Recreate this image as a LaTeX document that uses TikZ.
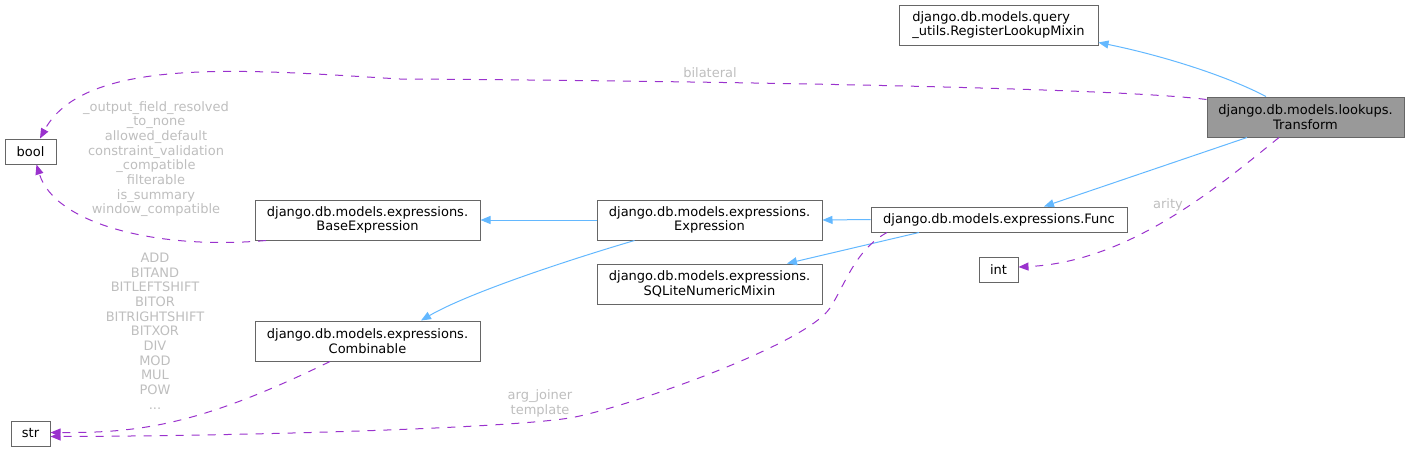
\documentclass[tikz,border=0pt]{standalone}
\usepackage{fontspec}
\setmainfont{DejaVu Sans}
\usetikzlibrary{arrows.meta, calc}
\definecolor{dxblue}{HTML}{63B8FF}
\definecolor{dxpurple}{HTML}{9A32CD}
\definecolor{dxborder}{HTML}{666666}
\definecolor{dxfocus}{HTML}{999999}
\definecolor{dxlabel}{HTML}{BEBEBE}

\begin{document}
\begin{tikzpicture}[x=1pt, y=-1pt, font=\fontsize{13}{14.67}\selectfont,
          box/.style={draw=dxborder, fill=white, line width=1pt, inner sep=0pt, minimum height=40pt, align=center},
          focus/.style={box, fill=dxfocus},
          inh/.style={-{Triangle[length=10pt, width=8pt]}, dxblue, line width=1pt},
          use/.style={-{Triangle[length=10pt, width=8pt]}, dxpurple, line width=1pt, dash pattern=on 8pt off 8pt},
          lbl/.style={text=dxlabel, inner sep=0pt, align=center}]
        \useasboundingbox (0,0) rectangle (1409,451);
        \node[box, minimum width=199pt, align=left] (mixin) at (998.5,25) {django.db.models.query\\\_utils.RegisterLookupMixin};
        \node[focus, minimum width=197pt] (transform) at (1305.5,117) {django.db.models.lookups.\\Transform};
        \node[box, minimum width=256pt, minimum height=25pt] (func) at (999,219.5) {django.db.models.expressions.Func};
        \node[box, minimum width=39pt, minimum height=25pt] (int) at (998.5,269.5) {int};
        \node[box, minimum width=51pt, minimum height=25pt] (bool) at (30.5,151.5) {bool};
        \node[box, minimum width=39pt, minimum height=25pt] (str) at (30.5,433.5) {str};
        \node[box, minimum width=225pt] (base) at (367.5,220) {django.db.models.expressions.\\BaseExpression};
        \node[box, minimum width=225pt] (expr) at (709.5,220) {django.db.models.expressions.\\Expression};
        \node[box, minimum width=225pt] (sqlite) at (709.5,284) {django.db.models.expressions.\\SQLiteNumericMixin};
        \node[box, minimum width=225pt] (comb) at (367.5,341) {django.db.models.expressions.\\Combinable};
        \draw[inh] ($(transform.north)+(-39.5,0)$) .. controls (1225,75) and (1160,55) .. ($(mixin.south east)+(0,-3)$);
        \draw[inh] ($(transform.south)+(-58.5,0)$) -- ($(func.north)+(45,0)$);
        \draw[inh] (func.west) -- (expr.east);
        \draw[inh] ($(func.south)+(-80,0)$) -- ($(sqlite.north)+(77.5,0)$);
        \draw[inh] (expr.west) -- (base.east);
        \draw[inh] ($(expr.south)+(-75,0)$) .. controls (575,258) and (470,292) .. ($(comb.north)+(53.5,0)$);
        \draw[use] ($(transform.north west)+(0,3)$) .. controls (1100,86) and (600,80) .. (400,79) .. controls (250,70) and (85,55) .. ($(bool.north)+(9.5,0)$);
        \draw[use] ($(base.south west)+(11.5,0)$) .. controls (160,250) and (55,225) .. ($(bool.south)+(6,0)$);
        \draw[use] ($(comb.south)+(-37.5,0)$) .. controls (200,425) and (140,433) .. ($(str.east)+(0,-1)$);
        \draw[use] ($(func.south)+(-112,0)$) .. controls (855,250) and (845,285) .. (830,308) .. controls (805,345) and (630,406) .. (575,417) .. controls (520,428) and (250,436) .. ($(str.east)+(0,3)$);
        \draw[use] ($(transform.south)+(-26.5,0)$) .. controls (1220,185) and (1130,262) .. ($(int.east)+(0,-2.5)$);
        \node[lbl] (lbilateral) at (710,73) {bilateral};
        \node[lbl] (lbool) at (156,159) {\_output\_field\_resolved\\\_to\_none\\allowed\_default\\constraint\_validation\\\_compatible\\filterable\\is\_summary\\window\_compatible};
        \node[lbl] (lstr) at (155,331) {ADD\\BITAND\\BITLEFTSHIFT\\BITOR\\BITRIGHTSHIFT\\BITXOR\\DIV\\MOD\\MUL\\POW\\...};
        \node[lbl] (ljoin) at (540,403.5) {arg\_joiner\\template};
        \node[lbl] (larity) at (1168,205) {arity};
      \end{tikzpicture}
\end{document}
